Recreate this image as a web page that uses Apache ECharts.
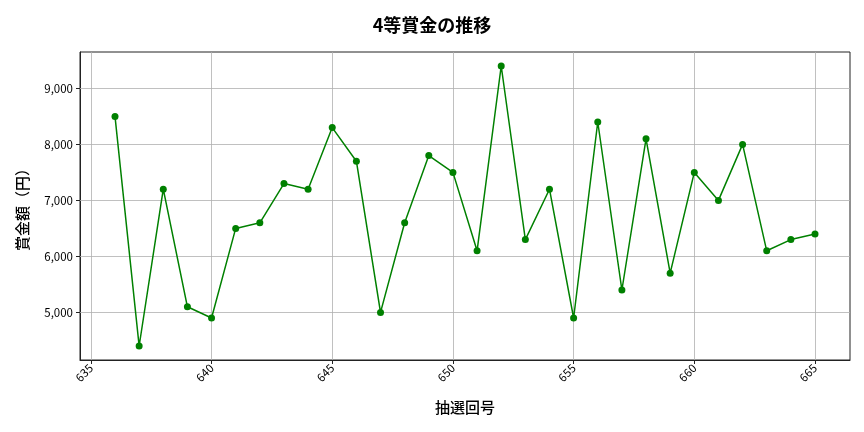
<!DOCTYPE html>
<html>
<head>
<meta charset="utf-8">
<script src="https://cdn.jsdelivr.net/npm/echarts@6/dist/echarts.min.js"></script>
<style>
html,body{margin:0;padding:0;background:#fff;}
#main{width:864px;height:432px;}
</style>
</head>
<body>
<div id="main"></div>
<script>
const drawNumbers = [636,637,638,639,640,641,642,643,644,645,646,647,648,649,650,651,652,653,654,655,656,657,658,659,660,661,662,663,664,665];
const prizeValues = [8500,4400,7200,5100,4900,6500,6600,7300,7200,8300,7700,5000,6600,7800,7500,6100,9400,6300,7200,4900,8400,5400,8100,5700,7500,7000,8000,6100,6300,6400];
const xTicks = [635,640,645,650,655,660,665];
const yTicks = [5000,6000,7000,8000,9000];

const FONT = '"Noto Sans CJK JP", "Noto Sans", sans-serif';
const chart = echarts.init(document.getElementById('main'), null, {renderer:'canvas'});
chart.setOption({
  animation: false,
  backgroundColor: '#ffffff',
  title: {
    text: '4等賞金の推移',
    left: 'center',
    top: 11,
    textStyle: {fontFamily: FONT, fontSize: 18, fontWeight: 'bold', color: '#000'}
  },
  grid: {
    left: 80, right: 14, top: 52, bottom: 72,
    show: true, borderColor: '#222', borderWidth: 1, backgroundColor: 'transparent'
  },
  xAxis: {
    type: 'value',
    min: 634.55, max: 666.45,
    axisLabel: {
      customValues: xTicks,
      rotate: 45, fontFamily: FONT, fontSize: 11.5, color: '#000', margin: 6
    },
    axisTick: {customValues: xTicks, length: 4, lineStyle: {color: '#222'}},
    axisLine: {show: true, onZero: false, lineStyle: {color: '#222'}},
    splitLine: {show: false},
    name: '抽選回号',
    nameLocation: 'middle',
    nameGap: 40,
    nameTextStyle: {fontFamily: FONT, fontSize: 15, fontWeight: 500, color: '#000'}
  },
  yAxis: {
    type: 'value',
    min: 4150, max: 9650,
    axisLabel: {
      customValues: yTicks,
      fontFamily: FONT, fontSize: 11.5, color: '#000', margin: 7,
      formatter: v => Number(v).toLocaleString('en-US')
    },
    axisTick: {show: true, customValues: yTicks, length: 4, lineStyle: {color: '#222'}},
    axisLine: {show: true, lineStyle: {color: '#222'}},
    splitLine: {show: false},
    name: '賞金額（円）',
    nameLocation: 'middle',
    nameGap: 50,
    nameTextStyle: {fontFamily: FONT, fontSize: 15, fontWeight: 500, color: '#000'}
  },
  series: [
    {
      type: 'line',
      data: [],
      silent: true,
      markLine: {
        silent: true, symbol: 'none', label: {show: false},
        lineStyle: {color: '#b0b0b0', width: 0.8, type: 'solid'},
        data: xTicks.map(x => ({xAxis: x})).concat(yTicks.map(y => ({yAxis: y})))
      }
    },
    {
      type: 'line',
      data: drawNumbers.map((d, i) => [d, prizeValues[i]]),
      lineStyle: {color: '#008000', width: 1.5},
      itemStyle: {color: '#008000'},
      symbol: 'circle',
      symbolSize: 7,
      z: 5
    }
  ]
});
</script>
</body>
</html>
